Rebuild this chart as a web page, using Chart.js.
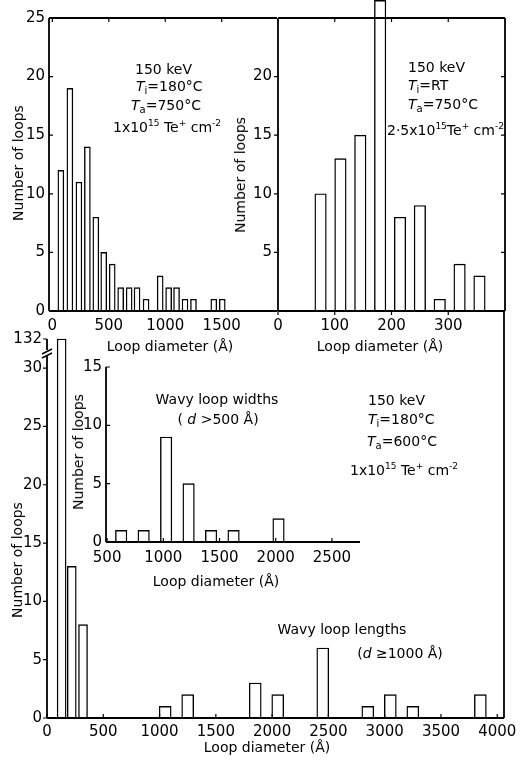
<!DOCTYPE html>
<html lang="en">
<head>
<meta charset="UTF-8">
<title>Loop diameter distributions</title>
<script src="https://cdn.jsdelivr.net/npm/chart.js"></script>
<style>
  body { margin: 0; background: #fff; }
  #fig { position: relative; width: 527px; height: 760px; overflow: hidden;
         font-family: "DejaVu Sans", sans-serif; font-size: 14px; color: #000; }
  #fig canvas { position: absolute; }
  .t { position: absolute; white-space: nowrap; line-height: 1; transform: translateY(-50%); }
  .c { transform: translate(-50%, -50%); }
  .r { transform: translate(-50%, -50%) rotate(-90deg); }
  sub { font-size: 10px; vertical-align: -3px; }
  sup { font-size: 9px; vertical-align: 6px; }
</style>
</head>
<body>
<div id="fig">
  <canvas id="tl" width="280" height="360" style="left:0;top:0"></canvas>
  <canvas id="tr" width="302" height="360" style="left:225px;top:0"></canvas>
  <canvas id="bt" width="527" height="460" style="left:0;top:300px"></canvas>
  <canvas id="ins" width="320" height="235" style="left:60px;top:355px"></canvas>

  <!-- upper left notes -->
  <div class="t" style="left:135px;top:69px">150 keV</div>
  <div class="t" style="left:136px;top:87px"><i>T</i><sub>i</sub>=180°C</div>
  <div class="t" style="left:131px;top:106px"><i>T</i><sub>a</sub>=750°C</div>
  <div class="t" style="left:113px;top:126px">1x10<sup>15</sup> Te<sup>+</sup> cm<sup>-2</sup></div>

  <!-- upper right notes -->
  <div class="t" style="left:408px;top:67px">150 keV</div>
  <div class="t" style="left:408px;top:86px"><i>T</i><sub>i</sub>=RT</div>
  <div class="t" style="left:408px;top:105px"><i>T</i><sub>a</sub>=750°C</div>
  <div class="t" style="left:387px;top:129px">2·5x10<sup>15</sup>Te<sup>+</sup> cm<sup>-2</sup></div>

  <!-- lower notes -->
  <div class="t" style="left:368px;top:400px">150 keV</div>
  <div class="t" style="left:368px;top:420px"><i>T</i><sub>i</sub>=180°C</div>
  <div class="t" style="left:367px;top:442px"><i>T</i><sub>a</sub>=600°C</div>
  <div class="t" style="left:350px;top:469px">1x10<sup>15</sup> Te<sup>+</sup> cm<sup>-2</sup></div>

  <div class="t c" style="left:217px;top:399px">Wavy loop widths</div>
  <div class="t c" style="left:218px;top:419px">( <i>d</i> &gt;500 Å)</div>
  <div class="t c" style="left:342px;top:629px">Wavy loop lengths</div>
  <div class="t c" style="left:400px;top:653px">(<i>d</i> ≥1000 Å)</div>

  <!-- axis titles -->
  <div class="t r" style="left:18px;top:163px">Number of loops</div>
  <div class="t r" style="left:240px;top:175px">Number of loops</div>
  <div class="t c" style="left:170px;top:346px">Loop diameter (Å)</div>
  <div class="t c" style="left:380px;top:346px">Loop diameter (Å)</div>
  <div class="t r" style="left:78px;top:452px">Number of loops</div>
  <div class="t c" style="left:216px;top:581px">Loop diameter (Å)</div>
  <div class="t r" style="left:17px;top:560px">Number of loops</div>
  <div class="t c" style="left:267px;top:747px">Loop diameter (Å)</div>
</div>

<script>
// upper left: Ti = 180 C, Ta = 750 C
const tlDiam  = [75, 155, 235, 310, 385, 455, 530, 605, 680, 750, 830, 955, 1030, 1100, 1175, 1250, 1430, 1505];
const tlCount = [12, 19, 11, 14, 8, 5, 4, 2, 2, 2, 1, 3, 2, 2, 1, 1, 1, 1];
const tlTicksX = [0, 500, 1000, 1500];
const tlTicksY = [0, 5, 10, 15, 20, 25];

// upper right: Ti = RT (the 180 A bar runs off the top)
const trDiam  = [75, 110, 145, 180, 215, 250, 285, 320, 355];
const trCount = [10, 13, 15, 26.5, 8, 9, 1, 4, 3];
const trTicksX = [0, 100, 200, 300];
const trTicksY = [5, 10, 15, 20];

// lower: Ta = 600 C, small loops and wavy loop lengths
const smallDiam  = [130, 220, 320];
const smallCount = [132, 13, 8];
const lenDiam  = [1050, 1250, 1850, 2050, 2450, 2850, 3050, 3250, 3850];
const lenCount = [1, 2, 3, 2, 6, 1, 2, 1, 2];
const btTicksX = [0, 500, 1000, 1500, 2000, 2500, 3000, 3500, 4000];
const btTicksY = [0, 5, 10, 15, 20, 25, 30, 132];

// inset: wavy loop widths
const widDiam  = [625, 825, 1025, 1225, 1425, 1625, 2025];
const widCount = [1, 1, 9, 5, 1, 1, 2];
const inTicksX = [500, 1000, 1500, 2000, 2500];
const inTicksY = [0, 5, 10, 15];

// broken axis on the lower panel: everything above 30 sits just under the top
const breakFrom = 30;
const breakShown = 32.5;
const shownLower = v => v > breakFrom ? breakShown : v;

const ink = '#000';
Chart.defaults.font.family = '"DejaVu Sans", sans-serif';
Chart.defaults.font.size = 15;
Chart.defaults.color = ink;

// frame lines and little tick marks (1 = inward, -1 = outward)
const frame = {
  id: 'frame',
  afterDatasetsDraw(chart, args, o) {
    const { ctx, chartArea: a } = chart;
    const x = chart.scales.x, y = chart.scales.y;
    const len = 4;
    ctx.save();
    ctx.strokeStyle = ink;
    ctx.lineWidth = 1.8;
    ctx.beginPath();
    const leftTop = o.leftFrom != null ? y.getPixelForValue(o.leftFrom) : a.top;
    if (o.left) { ctx.moveTo(a.left, leftTop); ctx.lineTo(a.left, a.bottom); }
    if (o.right) { ctx.moveTo(a.right, a.top); ctx.lineTo(a.right, a.bottom); }
    if (o.top) { ctx.moveTo(a.left, a.top); ctx.lineTo(a.right, a.top); }
    if (o.bottom) { ctx.moveTo(a.left, a.bottom); ctx.lineTo(a.right, a.bottom); }
    ctx.stroke();

    ctx.lineWidth = 1.2;
    ctx.beginPath();
    for (const [side, dir] of Object.entries(o.ticks || {})) {
      const sc = (side === 'top' || side === 'bottom') ? x : y;
      for (const t of sc.ticks) {
        const p = sc.getPixelForValue(t.value);
        if (side === 'top')    { ctx.moveTo(p, a.top);    ctx.lineTo(p, a.top + dir * len); }
        if (side === 'bottom') { ctx.moveTo(p, a.bottom); ctx.lineTo(p, a.bottom - dir * len); }
        if (side === 'left')   { ctx.moveTo(a.left, p);   ctx.lineTo(a.left + dir * len, p); }
        if (side === 'right')  { ctx.moveTo(a.right, p);  ctx.lineTo(a.right - dir * len, p); }
      }
    }
    ctx.stroke();

    if (o.breakAt != null) {
      const p = y.getPixelForValue(o.breakAt);
      ctx.fillStyle = '#fff';
      ctx.fillRect(a.left - 3, p - 3, 6, 6);
      ctx.beginPath();
      ctx.moveTo(a.left - 5, p + 1); ctx.lineTo(a.left + 5, p - 4);
      ctx.moveTo(a.left - 5, p + 5); ctx.lineTo(a.left + 5, p);
      ctx.lineWidth = 1.6;
      ctx.stroke();
    }
    ctx.restore();
  }
};

function fixBox(scale, w, h) {
  if (w != null) scale.width = w;
  if (h != null) scale.height = h;
  scale.paddingLeft = scale.paddingRight = scale.paddingTop = scale.paddingBottom = 0;
}

function panel(id, cfg) {
  const map = cfg.shown || (v => v);
  return new Chart(document.getElementById(id), {
    type: 'bar',
    data: {
      datasets: cfg.sets.map(s => ({
        data: s.x.map((v, i) => ({ x: v, y: map(s.y[i]) })),
        barThickness: s.w,
        backgroundColor: '#fff',
        borderColor: ink,
        borderWidth: 1.4,
        grouped: false,
        clip: false
      }))
    },
    options: {
      responsive: false,
      animation: false,
      layout: { padding: cfg.pad },
      plugins: { legend: { display: false }, tooltip: { enabled: false }, frame: cfg.frame },
      scales: {
        x: {
          type: 'linear', offset: false, min: cfg.xMin, max: cfg.xMax,
          grid: { display: false, drawTicks: false }, border: { display: false },
          ticks: { padding: cfg.xPad, autoSkip: false, maxRotation: 0,
                   callback: (v, i) => String(cfg.xTicks[i]) },
          afterBuildTicks: s => { s.ticks = cfg.xTicks.map(v => ({ value: v })); },
          afterFit: s => fixBox(s, null, cfg.xH)
        },
        y: {
          type: 'linear', min: 0, max: cfg.yMax,
          grid: { display: false, drawTicks: false }, border: { display: false },
          ticks: { padding: cfg.yPad, autoSkip: false,
                   callback: (v, i) => String(cfg.yTicks[i]) },
          afterBuildTicks: s => { s.ticks = cfg.yTicks.map(v => ({ value: map(v) })); },
          afterFit: s => fixBox(s, cfg.yW, null)
        }
      }
    },
    plugins: [frame]
  });
}

panel('tl', {
  sets: [{ x: tlDiam, y: tlCount, w: 6 }],
  xMin: -30, xMax: 1990, xTicks: tlTicksX, xH: 49, xPad: 6,
  yMax: 25, yTicks: tlTicksY, yW: 49, yPad: 4,
  pad: { top: 18, right: 3, left: 0, bottom: 0 },
  frame: { left: true, top: true, bottom: true, ticks: { left: 1, top: 1 } }
});

panel('tr', {
  sets: [{ x: trDiam, y: trCount, w: 11.5 }],
  xMin: 0, xMax: 400, xTicks: trTicksX, xH: 49, xPad: 6,
  yMax: 25, yTicks: trTicksY, yW: 53, yPad: 6,
  pad: { top: 18, right: 22, left: 0, bottom: 0 },
  frame: { left: true, top: true, right: true, bottom: true,
           ticks: { left: -1, right: 1, top: 1, bottom: -1 } }
});

panel('bt', {
  sets: [{ x: smallDiam, y: smallCount, w: 9 }, { x: lenDiam, y: lenCount, w: 12 }],
  shown: shownLower,
  xMin: 0, xMax: 4060, xTicks: btTicksX, xH: 42, xPad: 5,
  yMax: 34.9, yTicks: btTicksY, yW: 47, yPad: 5,
  pad: { top: 11, right: 23, left: 0, bottom: 0 },
  frame: { left: true, right: true, bottom: true, leftFrom: breakShown,
           breakAt: 31.3, ticks: { left: -1, bottom: 1 } }
});

panel('ins', {
  sets: [{ x: widDiam, y: widCount, w: 11.5 }],
  xMin: 490, xMax: 2750, xTicks: inTicksX, xH: 48, xPad: 7,
  yMax: 15, yTicks: inTicksY, yW: 46, yPad: 4,
  pad: { top: 12, right: 20, left: 0, bottom: 0 },
  frame: { left: true, bottom: true, ticks: { left: 1, bottom: 1 } }
});
</script>
</body>
</html>
